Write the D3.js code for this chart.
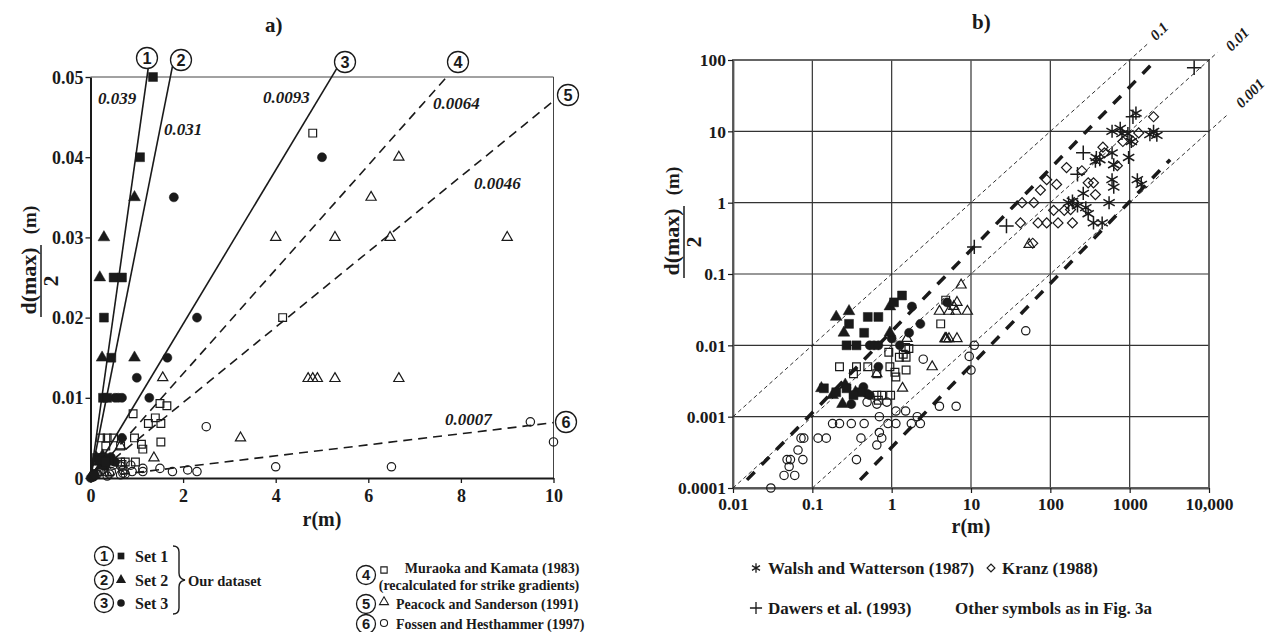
<!DOCTYPE html>
<html><head><meta charset="utf-8">
<script src="https://cdn.jsdelivr.net/npm/d3@7"></script>
<style>
body{margin:0;background:#fff}
svg{display:block}
text{font-family:"Liberation Serif","Times New Roman",serif;font-weight:bold;fill:#1a1a1a}
</style>
</head><body>
<svg id="c" width="1269" height="632"></svg>
<script>
// ---------------- DATA ----------------
// [r (m), d(max)/2 (m)]
const set1 = [[1.35,0.05],[1.07,0.04],[0.5,0.025],[0.68,0.025],[0.29,0.02],[0.45,0.015],[0.27,0.01],[0.36,0.01],[0.14,0.0025],[0.27,0.0025],[0.2,0.0022],[0.4,0.0022],[0.33,0.002]];
const set2 = [[0.2,0.025],[0.29,0.03],[0.25,0.015],[0.95,0.035],[0.95,0.015],[0.13,0.0025],[0.26,0.0028],[0.24,0.0015],[0.18,0.002],[0.35,0.0022]];
const set3 = [[5.0,0.04],[1.8,0.035],[2.3,0.02],[1.66,0.015],[1.0,0.0125],[0.53,0.01],[0.6,0.01],[0.68,0.01],[1.27,0.01],[0.68,0.005],[0.44,0.0026],[0.49,0.0021],[0.53,0.002],[0.31,0.0015]];
const muraoka = [[4.8,0.043],[4.15,0.02],[1.5,0.0093],[1.65,0.009],[1.4,0.0075],[1.25,0.0068],[1.52,0.0068],[0.92,0.008],[0.95,0.005],[1.1,0.0042],[1.13,0.0036],[1.52,0.0045],[0.22,0.005],[0.36,0.005],[0.5,0.005],[0.33,0.004],[0.65,0.004],[0.65,0.002],[0.75,0.002],[0.97,0.002],[0.68,0.0017]];
const peacock = [[6.66,0.04],[6.06,0.035],[4.0,0.03],[5.28,0.03],[6.47,0.03],[9.0,0.03],[4.7,0.0124],[4.8,0.0124],[4.9,0.0124],[5.28,0.0124],[6.66,0.0124],[1.56,0.0125],[3.24,0.005],[1.37,0.0025],[0.65,0.004],[7.5,0.07],[54,0.26]];
const fossen = [[0.03,0.0001],[0.044,0.00015],[0.06,0.00015],[0.051,0.0002],[0.048,0.00025],[0.053,0.00025],[0.066,0.00034],[0.076,0.00025],[0.072,0.0005],[0.078,0.0005],[0.118,0.0005],[0.15,0.0005],[0.18,0.0008],[0.22,0.0008],[0.31,0.0008],[0.45,0.0008],[0.36,0.00025],[0.41,0.0005],[0.65,0.0004],[0.7,0.0006],[0.75,0.0005],[0.7,0.001],[0.9,0.0008],[1.13,0.0008],[1.77,0.0008],[2.3,0.0008],[2.1,0.001],[1.13,0.0012],[1.5,0.0012],[0.49,0.0016],[0.65,0.0015],[0.87,0.0016],[2.5,0.0064],[4.0,0.0014],[6.5,0.0014],[9.5,0.007],[10,0.0045],[11,0.01],[49,0.016]];
const walsh = [[1200,18],[600,10],[760,11],[800,9.3],[950,9.3],[1050,7.2],[1800,9],[2200,8.8],[2000,10],[380,4.3],[420,4.0],[370,3.8],[600,5],[630,3.4],[970,4.3],[600,2.1],[630,1.65],[1250,2.1],[1400,1.8],[260,1.35],[550,1.0],[170,1.0],[190,1.05],[280,0.85],[300,0.7],[350,0.52],[450,0.52],[220,0.9]];
const kranz = [[2000,16],[1300,9.5],[1100,7.2],[820,7.2],[460,6],[480,5],[700,3.3],[160,3.1],[250,2.8],[90,2.1],[75,1.5],[62,1.0],[44,1.0],[120,1.8],[300,1.9],[350,1.9],[370,1.3],[110,0.78],[150,0.78],[180,0.8],[200,1.0],[42,0.52],[70,0.52],[90,0.52],[125,0.52],[190,0.52],[60,0.27]];
const dawers = [[6500,78],[1100,16],[260,5.0],[220,2.5],[28,0.47],[11,0.24]];

// panel a gradient lines: drawn slope, end point (r), label
const gradSlopes = [0.041, 0.029, 0.0096, 0.0065, 0.0047, 0.00069];
const gradEndR   = [1.254, 1.77, 5.34, 7.74, 10, 10];
const gradLabels = ["0.039","0.031","0.0093","0.0064","0.0046","0.0007"];
const gradDashed = [false,false,false,true,true,true];

// panel b reference lines d/2 = k r
const refK = [0.1, 0.01, 0.001];
const refStartR = [0.01, 0.01, 0.1];
const refEndR = [1660, 12700, 17000];
const refLabels = ["0.1","0.01","0.001"];
// panel b thick envelope lines
const envUpper = [[0.015,0.00013],[1860,85]];
const envLower = [[0.40,0.00013],[3240,4.0]];

const xTicksA = [0,2,4,6,8,10];
const yTicksA = [0,0.01,0.02,0.03,0.04,0.05];
const xTicksB = [0.01,0.1,1,10,100,1000,10000];
const xTickLabelsB = ["0.01","0.1","1","10","100","1000","10,000"];
const yTicksB = [0.0001,0.001,0.01,0.1,1,10,100];
const yTickLabelsB = ["0.0001","0.001","0.01","0.1","1","10","100"];

// ---------------- DRAW ----------------
const svg = d3.select("#c");
const ink = "#1a1a1a";

const xA = d3.scaleLinear([0,10],[90.5,553.5]);
const yA = d3.scaleLinear([0,0.05],[478,77]);
const xB = d3.scaleLog([0.01,10000],[733,1209]);
const yB = d3.scaleLog([0.0001,100],[488,60]);

function sym(type, size){ return d3.symbol().type(type).size(size)(); }
function drawPts(g, data, xs, ys, kind, filled, size){
  const t = {sq:d3.symbolSquare, tri:d3.symbolTriangle, cir:d3.symbolCircle, dia:d3.symbolSquare, ast:d3.symbolAsterisk, plus:d3.symbolPlus}[kind];
  g.selectAll(null).data(data).enter().append("path")
    .attr("d", sym(t,size))
    .attr("transform", d => `translate(${xs(d[0])},${ys(d[1])})` + (kind==="dia"?" rotate(45)":""))
    .attr("fill", filled ? ink : "none")
    .attr("stroke", ink)
    .attr("stroke-width", filled ? 0.5 : (kind==="ast"||kind==="plus" ? 1.5 : 1.2));
}
function circled(x,y,n,r){
  svg.append("circle").attr("cx",x).attr("cy",y).attr("r",r).attr("fill","#fff").attr("stroke",ink).attr("stroke-width",1.3);
  svg.append("text").attr("x",x).attr("y",y+r*0.55).attr("text-anchor","middle")
    .style("font-family","'Liberation Sans',Arial,sans-serif").style("font-size",(r*1.55)+"px").text(n);
}

// ===== Panel a =====
const gA = svg.append("g");
gA.append("path").attr("d",`M${xA(0)},${yA(0.05)}H${xA(10)}V${yA(0)}`).attr("fill","none").attr("stroke","#444").attr("stroke-width",1);
const axAx = gA.append("g").attr("transform",`translate(0,${yA(0)})`)
  .call(d3.axisBottom(xA).tickValues(xTicksA).tickFormat(d3.format("d")).tickSize(5).tickSizeOuter(0));
const axAy = gA.append("g").attr("transform",`translate(${xA(0)},0)`)
  .call(d3.axisLeft(yA).tickValues(yTicksA).tickFormat(d => d===0?"0":d3.format(".2f")(d)).tickSize(5).tickSizeOuter(0));
[axAx,axAy].forEach(a=>{
  a.attr("font-family",null).attr("font-size",null);
  a.select(".domain").attr("stroke",ink).attr("stroke-width",2);
  a.selectAll(".tick line").attr("stroke",ink).attr("stroke-width",1.3);
  a.selectAll("text").style("font-size","18px").attr("fill",ink);
});
axAx.selectAll("text").attr("dy",null).attr("y",24);
axAy.selectAll("text").attr("x",-7).attr("dy","0.34em");

gradSlopes.forEach((k,i)=>{
  const e = gradEndR[i];
  gA.append("line").attr("x1",xA(0)).attr("y1",yA(0)).attr("x2",xA(e)).attr("y2",yA(k*e))
    .attr("stroke",ink).attr("stroke-width",1.6)
    .attr("stroke-dasharray", gradDashed[i] ? "9,6" : null);
});
const gradLabPos = [[98,104],[164,135],[263,103],[433,109],[474,189],[445,425]];
gradLabels.forEach((l,i)=>{
  gA.append("text").attr("x",gradLabPos[i][0]).attr("y",gradLabPos[i][1]).style("font-style","italic").style("font-size","17px").text(l);
});

const inA = d => d[0] <= 10.2 && d[1] <= 0.0505;
drawPts(gA, fossen.filter(inA), xA, yA, "cir", false, 55);
drawPts(gA, peacock.filter(inA), xA, yA, "tri", false, 45);
drawPts(gA, muraoka.filter(inA), xA, yA, "sq", false, 60);
drawPts(gA, set3.filter(inA), xA, yA, "cir", true, 65);
drawPts(gA, set2.filter(inA), xA, yA, "tri", true, 60);
drawPts(gA, set1.filter(inA), xA, yA, "sq", true, 80);
drawPts(gA, [[0,0],[0.05,0.0002],[0.08,0.0004]], xA, yA, "cir", true, 60);

[[147,58,"1"],[181,60,"2"],[345,62,"3"],[458,62,"4"],[568,95,"5"],[566,422,"6"]].forEach(c=>circled(c[0],c[1],c[2],10.5));

svg.append("text").attr("x",265).attr("y",32).style("font-size","21px").text("a)");
svg.append("text").attr("x",322).attr("y",526).attr("text-anchor","middle").style("font-size","20px").text("r(m)");

function yLabel(x,y,mOff){
  const g = svg.append("g").attr("transform",`translate(${x},${y}) rotate(-90)`);
  g.append("text").attr("x",0).attr("y",-2).attr("text-anchor","middle").style("font-size","22px").text("d(max)");
  g.append("line").attr("x1",-36).attr("x2",36).attr("y1",3).attr("y2",3).attr("stroke",ink).attr("stroke-width",1.5);
  g.append("text").attr("x",0).attr("y",20).attr("text-anchor","middle").style("font-size","22px").text("2");
  g.append("text").attr("x",mOff).attr("y",-2).attr("text-anchor","middle").style("font-size","19px").text("(m)");
}
yLabel(38,281,61);

// legend a
const la = svg.append("g");
[[556,"1",d3.symbolSquare,"Set 1"],[580,"2",d3.symbolTriangle,"Set 2"],[603,"3",d3.symbolCircle,"Set 3"]].forEach(r=>{
  circled(104,r[0],r[1],9.5);
  la.append("path").attr("d",sym(r[2],45)).attr("transform",`translate(121,${r[0]})`).attr("fill",ink);
  la.append("text").attr("x",135).attr("y",r[0]+6).style("font-size","16px").text(r[3]);
});
la.append("path").attr("d","M173,546 q6,0 6,6 v21 q0,6 6,7 q-6,1 -6,7 v21 q0,6 -6,6").attr("fill","none").attr("stroke",ink).attr("stroke-width",1.4);
la.append("text").attr("x",188).attr("y",586).style("font-size","14.5px").text("Our dataset");
circled(366,575,"4",9.5);
la.append("path").attr("d",sym(d3.symbolSquare,40)).attr("transform","translate(384,570)").attr("fill","none").attr("stroke",ink).attr("stroke-width",1.1);
la.append("text").attr("x",492).attr("y",573).attr("text-anchor","middle").style("font-size","14px").text("Muraoka and Kamata (1983)");
la.append("text").attr("x",479).attr("y",590).attr("text-anchor","middle").style("font-size","14px").text("(recalculated for strike gradients)");
circled(366,604,"5",9.5);
la.append("path").attr("d",sym(d3.symbolTriangle,35)).attr("transform","translate(384,602)").attr("fill","none").attr("stroke",ink).attr("stroke-width",1.1);
la.append("text").attr("x",396).attr("y",609).style("font-size","14px").text("Peacock and Sanderson (1991)");
circled(366,624,"6",9.5);
la.append("path").attr("d",sym(d3.symbolCircle,40)).attr("transform","translate(384,623)").attr("fill","none").attr("stroke",ink).attr("stroke-width",1.1);
la.append("text").attr("x",396).attr("y",629).style("font-size","14px").text("Fossen and Hesthammer (1997)");

// ===== Panel b =====
const gB = svg.append("g");
gB.selectAll(null).data(xTicksB.slice(1,-1)).enter().append("line")
  .attr("x1",d=>xB(d)).attr("x2",d=>xB(d)).attr("y1",yB(100)).attr("y2",yB(0.0001)).attr("stroke","#333").attr("stroke-width",1.2);
gB.selectAll(null).data(yTicksB.slice(1,-1)).enter().append("line")
  .attr("y1",d=>yB(d)).attr("y2",d=>yB(d)).attr("x1",xB(0.01)).attr("x2",xB(10000)).attr("stroke","#333").attr("stroke-width",1.2);
gB.append("rect").attr("x",xB(0.01)).attr("y",yB(100)).attr("width",xB(10000)-xB(0.01)).attr("height",yB(0.0001)-yB(100))
  .attr("fill","none").attr("stroke","#555").attr("stroke-width",1.8);
const axBx = gB.append("g").attr("transform",`translate(0,${yB(0.0001)})`)
  .call(d3.axisBottom(xB).tickValues(xTicksB).tickFormat((d,i)=>xTickLabelsB[i]).tickSize(5).tickSizeOuter(0));
const axBy = gB.append("g").attr("transform",`translate(${xB(0.01)},0)`)
  .call(d3.axisLeft(yB).tickValues(yTicksB).tickFormat((d,i)=>yTickLabelsB[i]).tickSize(5).tickSizeOuter(0));
[axBx,axBy].forEach(a=>{
  a.attr("font-family",null).attr("font-size",null);
  a.select(".domain").attr("stroke","#555").attr("stroke-width",1.8);
  a.selectAll(".tick line").attr("stroke",ink).attr("stroke-width",1.2);
  a.selectAll("text").style("font-size","17.5px").attr("fill",ink);
});
axBx.selectAll("text").attr("dy",null).attr("y",22);
axBy.selectAll("text").attr("x",-7).attr("dy","0.34em");

refK.forEach((k,i)=>{
  gB.append("line").attr("x1",xB(refStartR[i])).attr("y1",yB(k*refStartR[i])).attr("x2",xB(refEndR[i])).attr("y2",yB(k*refEndR[i]))
    .attr("stroke",ink).attr("stroke-width",0.9).attr("stroke-dasharray","4,3");
});
const refLabPos = [[1159,31],[1237,39],[1250,93]];
refLabels.forEach((l,i)=>{
  svg.append("text").attr("transform",`translate(${refLabPos[i][0]},${refLabPos[i][1]}) rotate(-45)`)
    .attr("text-anchor","middle").attr("dy","0.35em").style("font-style","italic").style("font-size","15px").text(l);
});
[envUpper, envLower].forEach(e=>{
  gB.append("line").attr("x1",xB(e[0][0])).attr("y1",yB(e[0][1])).attr("x2",xB(e[1][0])).attr("y2",yB(e[1][1]))
    .attr("stroke",ink).attr("stroke-width",3.5).attr("stroke-dasharray","11,10");
});

drawPts(gB, fossen, xB, yB, "cir", false, 55);
drawPts(gB, peacock, xB, yB, "tri", false, 45);
drawPts(gB, muraoka, xB, yB, "sq", false, 60);
drawPts(gB, kranz, xB, yB, "dia", false, 50);
drawPts(gB, walsh, xB, yB, "ast", false, 120);
drawPts(gB, dawers, xB, yB, "plus", false, 70);
drawPts(gB, set3, xB, yB, "cir", true, 65);
drawPts(gB, set2, xB, yB, "tri", true, 60);
drawPts(gB, set1, xB, yB, "sq", true, 80);

svg.append("text").attr("x",972).attr("y",29).style("font-size","21px").text("b)");
svg.append("text").attr("x",971).attr("y",533).attr("text-anchor","middle").style("font-size","20px").text("r(m)");
yLabel(681,242,61);

// legend b
svg.append("path").attr("d",sym(d3.symbolAsterisk,60)).attr("transform","translate(756,568)").attr("fill","none").attr("stroke",ink).attr("stroke-width",1.3);
svg.append("text").attr("x",768).attr("y",574).style("font-size","17px").text("Walsh and Watterson (1987)");
svg.append("path").attr("d",sym(d3.symbolSquare,30)).attr("transform","translate(991,568) rotate(45)").attr("fill","none").attr("stroke",ink).attr("stroke-width",1.2);
svg.append("text").attr("x",1002).attr("y",574).style("font-size","17px").text("Kranz (1988)");
svg.append("path").attr("d",sym(d3.symbolPlus,50)).attr("transform","translate(756,608)").attr("fill","none").attr("stroke",ink).attr("stroke-width",1.3);
svg.append("text").attr("x",768).attr("y",614).style("font-size","17px").text("Dawers et al. (1993)");
svg.append("text").attr("x",955).attr("y",614).style("font-size","17px").text("Other symbols as in Fig. 3a");
</script>
</body></html>
